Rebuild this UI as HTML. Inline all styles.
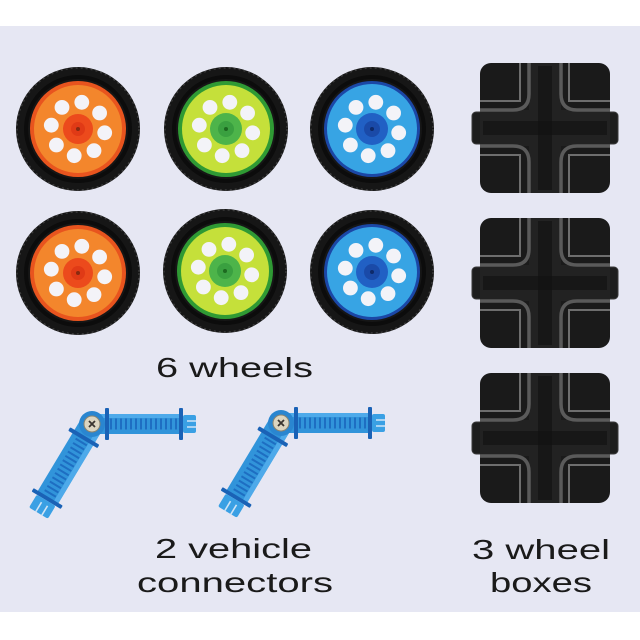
<!DOCTYPE html>
<html><head><meta charset="utf-8"><style>
html,body{margin:0;padding:0;background:#fff;}
svg{display:block;}
</style></head><body>
<svg width="640" height="640" viewBox="0 0 640 640" xmlns="http://www.w3.org/2000/svg">
<defs>
  <g id="tire">
    <circle r="62" fill="#161616"/>
    <circle r="61" fill="none" stroke="#3c3c3c" stroke-width="1.4" stroke-dasharray="2 3"/>
    <circle r="52" fill="none" stroke="#0c0c0c" stroke-width="4"/>
  </g>
  <g id="holes">
    <circle cx="3.8" cy="-26.7" r="7.4" fill="#f3f3f8"/>
    <circle cx="21.6" cy="-16" r="7.4" fill="#f3f3f8"/>
    <circle cx="26.7" cy="3.8" r="7.4" fill="#f3f3f8"/>
    <circle cx="16" cy="21.6" r="7.4" fill="#f3f3f8"/>
    <circle cx="-3.8" cy="26.7" r="7.4" fill="#f3f3f8"/>
    <circle cx="-21.6" cy="16" r="7.4" fill="#f3f3f8"/>
    <circle cx="-26.7" cy="-3.8" r="7.4" fill="#f3f3f8"/>
    <circle cx="-16" cy="-21.6" r="7.4" fill="#f3f3f8"/>
  </g>
  <g id="wOrange">
    <use href="#tire"/>
    <circle r="48" fill="#e8541e"/>
    <circle r="44" fill="#f3862c"/>
    <circle r="15" fill="#ec4a1c"/>
    <circle r="7" fill="#e03a16"/>
    <circle r="2" fill="#8a2a10"/>
    <use href="#holes"/>
  </g>
  <g id="wGreen">
    <use href="#tire"/>
    <circle r="48" fill="#2f9a34"/>
    <circle r="44" fill="#c5e03a"/>
    <circle r="16" fill="#4db44a"/>
    <circle r="8" fill="#3aa040"/>
    <circle r="2" fill="#1d6a20"/>
    <use href="#holes"/>
  </g>
  <g id="wBlue">
    <use href="#tire"/>
    <circle r="48" fill="#1b47a6"/>
    <circle r="45" fill="#37a4e4"/>
    <circle r="16" fill="#2160c4"/>
    <circle r="8" fill="#1a4aa8"/>
    <circle r="2" fill="#0e2a6a"/>
    <use href="#holes"/>
  </g>
  <g id="box">
    <rect x="-73" y="-16" width="14" height="32" rx="4" fill="#1d1d1d" stroke="#3a3a3a" stroke-width="1"/>
    <rect x="59" y="-16" width="14" height="32" rx="4" fill="#1d1d1d" stroke="#3a3a3a" stroke-width="1"/>
    <rect x="-65" y="-65" width="130" height="130" rx="11" fill="#1a1a1a"/>
    <rect x="-16" y="-65" width="32" height="130" fill="#222"/>
    <rect x="-65" y="-18" width="130" height="36" fill="#222"/>
    <g fill="none" stroke="#5a5a5a" stroke-width="3.5">
      <path d="M -16,-65 L -16,-34 Q -16,-18 -32,-18 L -65,-18"/>
      <path d="M 16,-65 L 16,-34 Q 16,-18 32,-18 L 65,-18"/>
      <path d="M -16,65 L -16,34 Q -16,18 -32,18 L -65,18"/>
      <path d="M 16,65 L 16,34 Q 16,18 32,18 L 65,18"/>
    </g>
    <g fill="none" stroke="#6e6e6e" stroke-width="2">
      <path d="M -65,-27 L -25,-27 L -25,-65"/>
      <path d="M 65,-27 L 24,-27 L 24,-65"/>
      <path d="M -65,27 L -25,27 L -25,65"/>
      <path d="M 65,27 L 24,27 L 24,65"/>
    </g>
    <rect x="-7" y="-62" width="14" height="124" fill="#111" opacity="0.6"/>
    <rect x="-62" y="-7" width="124" height="14" fill="#111" opacity="0.6"/>
  </g>
  <g id="arm">
    <rect x="-2" y="-10" width="92" height="20" fill="#3194da"/>
    <rect x="-2" y="-10" width="92" height="4" fill="#4eaaea"/>
    <line x1="18" y1="0" x2="86" y2="0" stroke="#1e6ec2" stroke-width="11" stroke-dasharray="2 3"/>
    <rect x="13" y="-16" width="4" height="32" rx="1" fill="#1a62b6"/>
    <rect x="87" y="-16" width="4" height="32" rx="1" fill="#1a62b6"/>
    <rect x="91" y="-9" width="13" height="18" rx="2" fill="#3aa0e4"/>
    <line x1="95" y1="-3" x2="104" y2="-3" stroke="#cfe4f6" stroke-width="1.5"/>
    <line x1="95" y1="3" x2="104" y2="3" stroke="#cfe4f6" stroke-width="1.5"/>
  </g>
  <g id="arm2">
    <rect x="4" y="-12" width="84" height="24" fill="#3194da"/>
    <rect x="4" y="-12" width="84" height="5" fill="#4eaaea"/>
    <line x1="20" y1="0" x2="84" y2="0" stroke="#1e6ec2" stroke-width="13" stroke-dasharray="2 3"/>
    <rect x="14" y="-17" width="4" height="34" rx="1" fill="#1a62b6"/>
    <rect x="85" y="-17" width="4" height="34" rx="1" fill="#1a62b6"/>
    <rect x="89" y="-11" width="15" height="22" rx="2" fill="#3aa0e4"/>
    <line x1="93" y1="-4" x2="104" y2="-4" stroke="#cfe4f6" stroke-width="1.6"/>
    <line x1="93" y1="3" x2="104" y2="3" stroke="#cfe4f6" stroke-width="1.6"/>
  </g>
  <g id="conn">
    <g transform="rotate(121)"><use href="#arm2"/></g>
    <use href="#arm"/>
    <circle r="13" fill="#2a86d0"/>
    <circle r="8" fill="#dcd5c0" stroke="#8a8470" stroke-width="1"/>
    <path d="M -3,-3 L 3,3 M 3,-3 L -3,3" stroke="#3a3530" stroke-width="1.8"/>
  </g>
</defs>

<rect x="0" y="26" width="640" height="586" fill="#e6e7f3"/>

<use href="#wOrange" transform="translate(78,129)"/>
<use href="#wGreen" transform="translate(226,129)"/>
<use href="#wBlue" transform="translate(372,129)"/>
<use href="#wOrange" transform="translate(78,273)"/>
<use href="#wGreen" transform="translate(225,271)"/>
<use href="#wBlue" transform="translate(372,272)"/>

<use href="#box" transform="translate(545,128)"/>
<use href="#box" transform="translate(545,283)"/>
<use href="#box" transform="translate(545,438)"/>

<use href="#conn" transform="translate(92,424)"/>
<use href="#conn" transform="translate(281,423)"/>

<g font-family="Liberation Sans, sans-serif" font-size="28" fill="#1a1a1a">
  <text x="156" y="377" textLength="157" lengthAdjust="spacingAndGlyphs">6 wheels</text>
  <text x="155" y="558" textLength="157" lengthAdjust="spacingAndGlyphs">2 vehicle</text>
  <text x="137" y="592" textLength="196" lengthAdjust="spacingAndGlyphs">connectors</text>
  <text x="472" y="559" textLength="138" lengthAdjust="spacingAndGlyphs">3 wheel</text>
  <text x="490" y="592" textLength="102" lengthAdjust="spacingAndGlyphs">boxes</text>
</g>
</svg>
</body></html>
